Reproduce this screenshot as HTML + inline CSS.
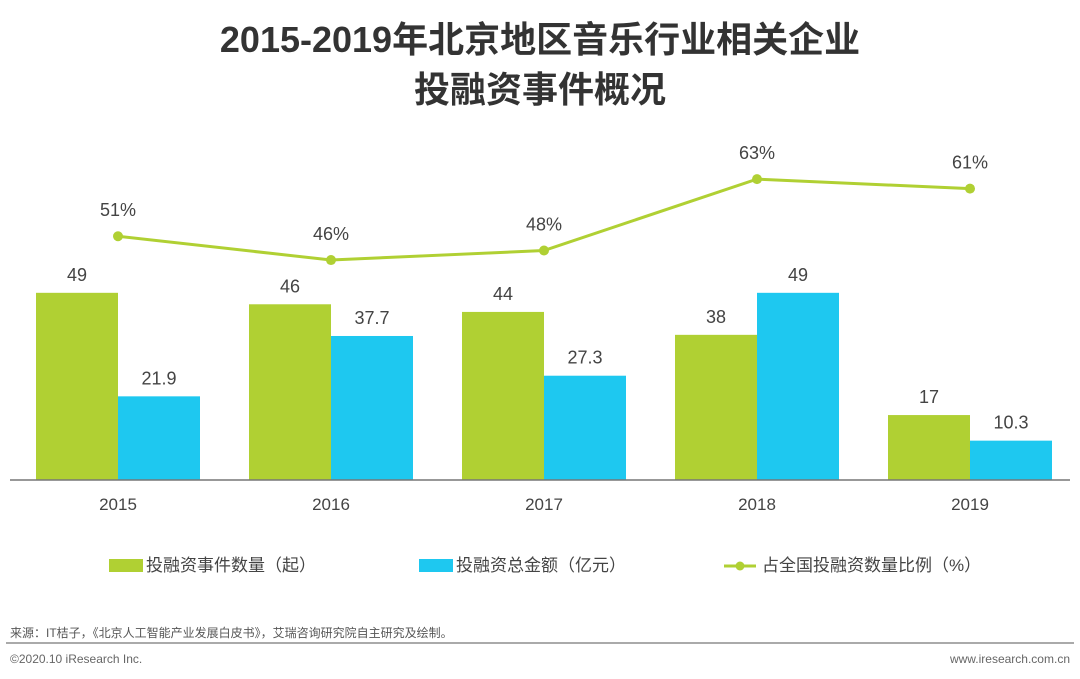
<!DOCTYPE html>
<html><head><meta charset="utf-8"><style>
html,body{margin:0;padding:0;background:#fff;width:1080px;height:679px;overflow:hidden}
svg{display:block;font-family:"Liberation Sans","Noto Sans CJK SC",sans-serif}
</style></head><body>
<svg id="c" width="1080" height="679" viewBox="0 0 1080 679">
<text x="540" y="52" text-anchor="middle" font-size="36" font-weight="bold" fill="#333">2015-2019年北京地区音乐行业相关企业</text>
<text x="540" y="102" text-anchor="middle" font-size="36" font-weight="bold" fill="#333">投融资事件概况</text>
<g id="bars"></g><g id="line"></g>
<line x1="10" y1="480" x2="1070" y2="480" stroke="#777" stroke-width="1.5"/>
<g id="xt"></g>
<g>
<rect x="109" y="559" width="34" height="13" fill="#b0d033"/>
<text x="146" y="571" font-size="17" fill="#444">投融资事件数量（起）</text>
<rect x="419" y="559" width="34" height="13" fill="#1ec8f0"/>
<text x="456" y="571" font-size="17" fill="#444">投融资总金额（亿元）</text>
<line x1="724" y1="566" x2="756" y2="566" stroke="#b0d033" stroke-width="3"/>
<circle cx="740" cy="566" r="4.5" fill="#b0d033"/>
<text x="762" y="571" font-size="17" fill="#444">占全国投融资数量比例（%）</text>
</g>
<text x="10" y="637" font-size="12" fill="#555">来源：IT桔子，《北京人工智能产业发展白皮书》，艾瑞咨询研究院自主研究及绘制。</text>
<line x1="6" y1="643" x2="1074" y2="643" stroke="#aaa" stroke-width="2"/>
<text x="10" y="663" font-size="12" fill="#666">©2020.10 iResearch Inc.</text>
<text x="1070" y="663" text-anchor="end" font-size="12" fill="#666">www.iresearch.com.cn</text>
</svg>
<script>
const years=["2015","2016","2017","2018","2019"];
const counts=[49,46,44,38,17];
const amounts=[21.9,37.7,27.3,49,10.3];
const ratios=[51,46,48,63,61];
const NS="http://www.w3.org/2000/svg";
const base=480,bw=82;
function cx(i){return 118+i*213;}
function yb(v){return base-v*3.82;}
function yl(v){return 479-v*4.76;}
function mk(t,a,p){const e=document.createElementNS(NS,t);for(const k in a)e.setAttribute(k,a[k]);document.getElementById(p).appendChild(e);return e;}
years.forEach((y,i)=>{
 let r=mk('rect',{x:cx(i)-bw,y:yb(counts[i]),width:bw,height:base-yb(counts[i]),fill:'#b0d033'},'bars');
 
 
 let t=mk('text',{x:cx(i)-bw/2,y:yb(counts[i])-12,'text-anchor':'middle','font-size':18,fill:'#444'},'bars');t.textContent=counts[i];
 
 
 let b=mk('rect',{x:cx(i),y:yb(amounts[i]),width:bw,height:base-yb(amounts[i]),fill:'#1ec8f0'},'bars');
 
 
 let t2=mk('text',{x:cx(i)+bw/2,y:yb(amounts[i])-12,'text-anchor':'middle','font-size':18,fill:'#444'},'bars');t2.textContent=amounts[i];
 
 
 let xt=mk('text',{x:cx(i),y:510,'text-anchor':'middle','font-size':17,fill:'#444'},'xt');xt.textContent=y;
 
 
});
let pl=mk('polyline',{points:years.map((y,i)=>cx(i)+','+yl(ratios[i])).join(' '),fill:'none',stroke:'#b0d033','stroke-width':3},'line');


years.forEach((y,i)=>{
 let c=mk('circle',{cx:cx(i),cy:yl(ratios[i]),r:5,fill:'#b0d033'},'line');
 
 
 let t=mk('text',{x:cx(i),y:yl(ratios[i])-20,'text-anchor':'middle','font-size':18,fill:'#444'},'line');t.textContent=ratios[i]+'%';
 
 
});
</script>
</body></html>
